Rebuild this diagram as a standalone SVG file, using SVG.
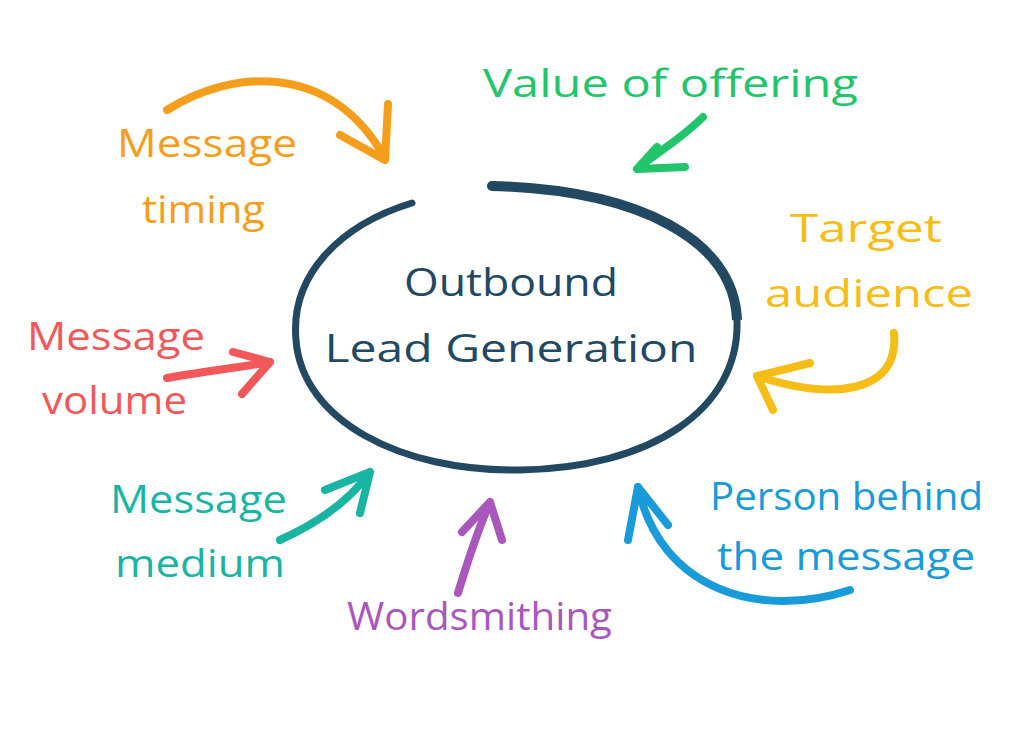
<svg xmlns="http://www.w3.org/2000/svg" width="1018" height="736" viewBox="0 0 1018 736">
<style>
text{font-family:"Open Sans","Liberation Sans",sans-serif;font-size:38px;}
.c{fill:none;stroke-linecap:round;stroke-linejoin:round;stroke-width:8;}
.or{stroke:#f59e1b}.gr{stroke:#22c46c}.ye{stroke:#f6bd16}.re{stroke:#f2575a}.te{stroke:#19b5a2}.pu{stroke:#a957bd}.bl{stroke:#199ad9}
</style>
<rect width="1018" height="736" fill="#ffffff"/>
<g id="center">
<path d="M412,203 C340,225 290,275 296,340 C302,420 400,472 520,470 C650,468 740,410 737,320 C734,240 640,190 492,186" fill="none" stroke="#234862" stroke-width="7" stroke-linecap="round"/>
<path d="M737,320 C734,240 640,190 492,186" fill="none" stroke="#234862" stroke-width="10" stroke-linecap="butt"/>
<circle cx="492" cy="186" r="5" fill="#234862"/>
<text x="511" y="296" text-anchor="middle" fill="#234862" textLength="214" lengthAdjust="spacingAndGlyphs">Outbound</text>
<text x="511" y="362" text-anchor="middle" fill="#234862" textLength="373" lengthAdjust="spacingAndGlyphs">Lead Generation</text>
</g>
<g id="connectors">
<path class="c or" d="M167,110 C230,70 330,60 385,158 M340,135 L385,160 L388,104"/>
<path class="c gr" d="M703,117 C680,140 660,150 637,169 M657,147 L637,169 L685,167"/>
<path class="c ye" d="M894,333 C900,395 830,400 757,376 M810,363 L757,376 L773,410"/>
<path class="c re" d="M167,378 C200,372 235,368 270,362 M233,352 L270,362 L242,394"/>
<path class="c te" d="M280,540 C320,522 350,500 370,472 M325,490 L370,472 L360,513"/>
<path class="c pu" d="M458,593 C468,560 478,530 490,502 M462,532 L490,502 L502,540"/>
<path class="c bl" d="M850,590 C760,620 660,590 638,487 M628,540 L638,487 L668,525"/>
</g>
<g id="timing"><text fill="#f59e1b"><tspan x="117" y="157" textLength="180" lengthAdjust="spacingAndGlyphs">Message</tspan><tspan x="142" y="223" textLength="123" lengthAdjust="spacingAndGlyphs">timing</tspan></text></g>
<g id="value"><text x="483" y="97" fill="#22c46c" textLength="375" lengthAdjust="spacingAndGlyphs">Value of offering</text></g>
<g id="audience"><text fill="#f6bd16"><tspan x="790" y="242" textLength="152" lengthAdjust="spacingAndGlyphs">Target</tspan><tspan x="765" y="307" textLength="208" lengthAdjust="spacingAndGlyphs">audience</tspan></text></g>
<g id="volume"><text fill="#f2575a"><tspan x="27" y="350" textLength="178" lengthAdjust="spacingAndGlyphs">Message</tspan><tspan x="42" y="414" textLength="145" lengthAdjust="spacingAndGlyphs">volume</tspan></text></g>
<g id="medium"><text fill="#19b5a2"><tspan x="110" y="513" textLength="177" lengthAdjust="spacingAndGlyphs">Message</tspan><tspan x="115" y="577" textLength="170" lengthAdjust="spacingAndGlyphs">medium</tspan></text></g>
<g id="wordsmithing"><text x="347" y="630" fill="#a957bd" textLength="265" lengthAdjust="spacingAndGlyphs">Wordsmithing</text></g>
<g id="person"><text fill="#199ad9"><tspan x="710" y="510" textLength="273" lengthAdjust="spacingAndGlyphs">Person behind</tspan><tspan x="717" y="570" textLength="258" lengthAdjust="spacingAndGlyphs">the message</tspan></text></g>
</svg>
